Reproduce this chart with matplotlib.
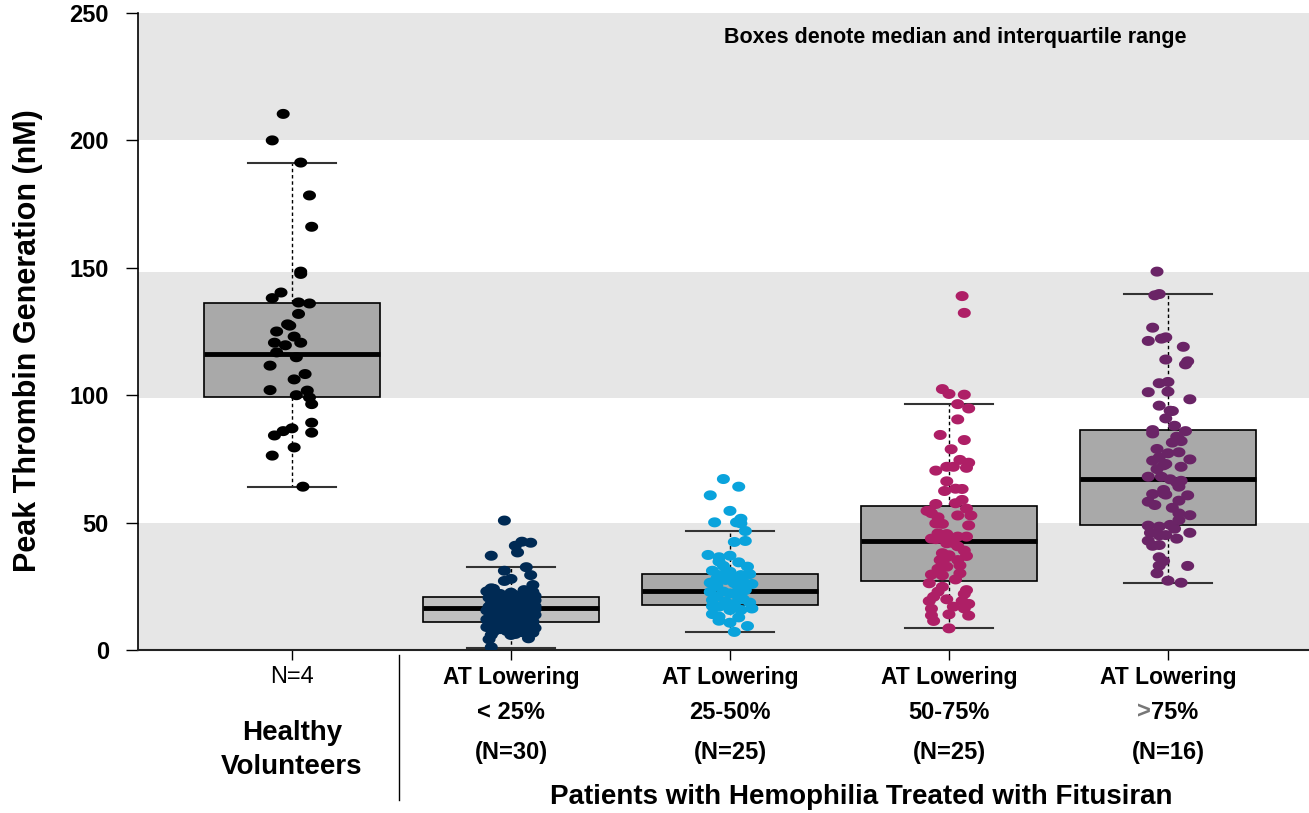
import numpy as np
import matplotlib.pyplot as plt

plt.rcParams['font.family'] = ['Liberation Sans', 'DejaVu Sans']

# box statistics: median, quartiles and whisker ends per group
medians = [116.2, 16.3, 23.2, 42.8, 67.0]
q1s = [99.3, 11.1, 17.7, 27.2, 49.1]
q3s = [136.2, 20.9, 29.8, 56.5, 86.3]
whis_lo = [64.0, 0.9, 7.1, 8.6, 26.4]
whis_hi = [191.1, 32.5, 46.6, 96.5, 139.7]

# individual measurements (nM) with their horizontal jitter
hv_vals = [210.4, 200.0, 191.3, 178.4, 166.1, 148.5, 147.6, 138.1, 140.3, 136.4,
           136.0, 131.9, 127.8, 127.3, 125.0, 123.0, 120.6, 119.6, 120.6, 116.8,
           114.9, 111.6, 108.3, 106.2, 102.0, 101.8, 100.0, 99.1, 96.5, 89.2,
           85.3, 87.0, 85.9, 84.2, 79.5, 76.3, 64.1]
hv_jit = [-0.04, -0.09, 0.04, 0.08, 0.09, 0.04, 0.04, -0.09, -0.05, 0.03,
          0.08, 0.03, -0.02, -0.01, -0.07, 0.01, -0.08, -0.03, 0.04, -0.07,
          0.02, -0.10, 0.06, 0.01, -0.10, 0.07, 0.02, 0.08, 0.09, 0.09,
          0.09, 0.00, -0.04, -0.08, 0.01, -0.09, 0.05]

at25_vals = [50.8, 42.5, 42.1, 40.9, 38.3, 37.0, 32.5, 31.1, 29.4, 27.9,
             27.1, 25.5, 24.2, 5.9, 4.2, 1.1, 5.9, 4.6, 6.5,
             24.0, 23.5, 22.8, 22.0, 21.5, 21.0, 20.5, 20.2, 19.8, 19.5,
             19.0, 18.6, 18.2, 17.8, 17.5, 17.0, 16.8, 16.4, 16.0, 15.7,
             15.3, 15.0, 14.6, 14.3, 14.0, 13.6, 13.2, 12.9, 12.5, 12.2,
             11.8, 11.4, 11.0, 10.6, 10.3, 10.0, 9.6, 9.2, 8.8, 8.4,
             8.0, 7.5, 7.0,
             23.0, 22.5, 21.8, 21.2, 20.8, 19.2, 18.9, 18.0, 17.2, 16.5,
             15.9, 15.5, 14.8, 14.4, 13.8, 13.0, 12.7, 12.0, 11.6, 11.2,
             10.8, 10.0, 9.5, 9.0, 8.6, 8.2, 7.8, 7.2, 6.8, 6.3]
at25_jit = [-0.03, 0.05, 0.09, 0.02, 0.03, -0.09, 0.07, -0.03, 0.09, 0.00,
            -0.03, 0.10, -0.09, -0.09, -0.10, -0.09, 0.00, 0.08, 0.08,
            -0.08, 0.06, 0.10, -0.05, 0.02, 0.08, -0.10, -0.02, 0.05, 0.11,
            -0.07, 0.00, 0.09, -0.04, 0.04, -0.10, 0.07, -0.01, 0.11, -0.06,
            0.03, 0.09, -0.09, 0.00, 0.06, -0.04, 0.10, -0.08, 0.03, -0.01,
            0.08, -0.06, 0.05, -0.10, 0.01, 0.10, -0.03, 0.07, -0.07, 0.03,
            0.09, -0.02, 0.05,
            -0.11, 0.00, -0.08, 0.11, 0.04, -0.04, 0.06, -0.09, 0.11, -0.06,
            0.02, -0.11, 0.05, -0.05, 0.11, 0.00, 0.07, -0.11, 0.02, 0.10,
            -0.03, -0.08, 0.04, -0.11, 0.11, -0.05, 0.06, -0.08, 0.10, 0.02]

at50_vals = [67.1, 64.1, 60.7, 54.6, 51.5, 50.1, 50.1, 49.7, 46.7, 42.4,
             42.8, 37.3, 36.4, 37.0, 34.7, 34.4, 32.7, 31.1, 30.7, 29.8,
             29.4, 29.4, 26.4, 27.5, 26.2, 25.9, 25.1, 22.8, 22.9, 23.5,
             22.2, 21.6, 19.6, 18.6, 19.0, 18.1, 16.3, 17.0, 15.7, 15.7,
             14.1, 13.1, 12.8, 11.5, 10.7, 9.4, 7.1,
             30.0, 28.5, 28.0, 24.5, 20.0, 17.5, 17.2, 21.0, 26.8, 33.0]
at50_jit = [-0.03, 0.04, -0.09, 0.00, 0.05, -0.07, 0.03, 0.05, 0.07, 0.02,
            0.07, -0.10, -0.05, 0.00, -0.05, 0.04, 0.08, -0.08, 0.00, 0.09,
            -0.05, 0.05, -0.09, -0.02, 0.02, 0.10, -0.06, -0.09, -0.03, 0.07,
            0.00, 0.03, -0.08, 0.09, -0.02, 0.02, 0.10, -0.05, 0.00, 0.05,
            -0.08, -0.05, 0.04, -0.05, 0.00, 0.08, 0.02,
            -0.02, 0.02, -0.06, 0.04, 0.06, -0.02, -0.08, -0.06, 0.06, -0.03]

at75_vals = [138.9, 132.3, 102.4, 100.5, 100.2, 96.5, 94.8, 90.5, 84.4, 82.4,
             78.8, 74.6, 73.5, 71.9, 71.9, 71.5, 70.4, 66.2, 62.4, 63.3,
             63.2, 58.9, 57.6, 57.3, 54.6, 55.5, 52.8, 52.8, 52.1, 49.7,
             49.5, 48.9, 45.8, 45.5, 43.7, 44.5, 44.5, 41.9, 43.7, 40.7,
             38.0, 37.2, 36.9, 35.3, 35.3, 36.4, 31.9, 32.7, 33.2, 29.6,
             29.3, 30.1, 27.7, 26.2, 24.8, 23.5, 22.9, 22.0, 20.9, 19.2,
             19.9, 19.2, 18.1, 17.0, 16.2, 16.3, 14.0, 13.6, 13.5, 11.4,
             8.5, 54.6, 43.5, 42.0, 39.0, 43.0, 53.7]
at75_jit = [0.06, 0.07, -0.03, 0.00, 0.07, 0.04, 0.09, 0.04, -0.04, 0.07,
            0.01, 0.05, 0.09, -0.01, 0.02, 0.08, -0.06, -0.01, -0.02, 0.03,
            0.06, 0.06, 0.03, -0.06, -0.09, 0.08, 0.10, 0.04, -0.05, -0.06,
            -0.03, 0.09, -0.05, -0.01, -0.08, 0.04, 0.08, -0.01, -0.04, 0.04,
            -0.03, 0.00, 0.08, -0.04, 0.04, -0.01, -0.05, -0.01, 0.05, -0.08,
            -0.03, 0.05, 0.03, -0.09, -0.03, 0.08, -0.05, 0.07, -0.07, -0.09,
            -0.01, 0.06, 0.09, 0.02, -0.08, 0.07, 0.00, -0.08, 0.09, -0.07,
            0.00, -0.10, -0.06, 0.02, 0.07, 0.00, -0.08]

atgt75_vals = [148.5, 139.2, 139.7, 126.5, 121.3, 122.2, 122.7, 119.0, 114.0, 113.3,
               112.1, 104.7, 105.2, 101.2, 101.4, 98.4, 95.9, 93.9, 93.8, 90.9,
               88.0, 86.3, 85.0, 85.9, 83.7, 81.4, 82.0, 78.9, 77.2, 77.6,
               74.3, 75.6, 74.8, 73.0, 71.9, 71.0, 68.0, 68.0, 67.0, 65.7,
               66.4, 64.1, 62.8, 61.2, 61.5, 60.7, 58.2, 56.9, 58.6, 55.8,
               53.6, 52.9, 51.0, 48.8, 48.4, 49.1, 47.6, 46.0, 45.0, 45.1,
               46.0, 43.7, 42.9, 40.9, 41.2, 36.4, 34.9, 33.1, 33.0, 30.1,
               27.2, 26.4, 82.7, 61.0, 72.5]
atgt75_jit = [-0.05, -0.06, -0.04, -0.07, -0.09, -0.03, -0.01, 0.07, -0.01, 0.09,
              0.08, -0.04, 0.00, -0.09, 0.00, 0.10, -0.04, 0.01, 0.02, -0.01,
              0.03, -0.07, -0.07, 0.08, 0.04, 0.02, 0.06, -0.05, 0.00, 0.05,
              -0.07, -0.04, 0.10, -0.01, 0.06, -0.05, -0.09, -0.03, 0.01, 0.04,
              0.06, 0.05, -0.02, -0.07, -0.02, 0.09, -0.09, -0.06, 0.05, 0.02,
              0.05, 0.10, 0.05, -0.09, -0.04, 0.01, 0.03, -0.08, -0.04, -0.01,
              0.10, 0.04, -0.09, -0.07, -0.04, -0.04, -0.02, -0.04, 0.09, -0.05,
              0.00, 0.06, 0.05, -0.01, -0.02]

groups = [(hv_vals, hv_jit), (at25_vals, at25_jit), (at50_vals, at50_jit),
          (at75_vals, at75_jit), (atgt75_vals, atgt75_jit)]
dot_colors = ['#000000', '#002a54', '#0aa3dc', '#ae1f66', '#6a2466']
box_colors = ['#a9a9a9', '#c0c0c0', '#a9a9a9', '#a9a9a9', '#a9a9a9']

top_lines = ['N=4', 'AT Lowering', 'AT Lowering', 'AT Lowering', 'AT Lowering']
mid_lines = ['', '< 25%', '25-50%', '50-75%', None]
n_lines = ['', '(N=30)', '(N=25)', '(N=25)', '(N=16)']

fig = plt.figure(figsize=(13.09, 8.13), dpi=100)
ax = fig.add_axes([138 / 1309, 163 / 813, 1 - 138 / 1309, 637 / 813])

# shaded horizontal bands
for lo, hi in [(0, 50), (99, 148.5), (200, 250)]:
    ax.axhspan(lo, hi, color='#e6e6e6', zorder=0, lw=0)

stats = [dict(med=m, q1=a, q3=b, whislo=lo, whishi=hi, fliers=[])
         for m, a, b, lo, hi in zip(medians, q1s, q3s, whis_lo, whis_hi)]
bp = ax.bxp(stats, positions=range(5), widths=0.8, capwidths=0.4,
            patch_artist=True, showfliers=False, manage_ticks=False,
            boxprops=dict(edgecolor='black', linewidth=1.2),
            whiskerprops=dict(linestyle=(0, (2.5, 2)), linewidth=1, color='black'),
            capprops=dict(color='#333333', linewidth=1.5),
            medianprops=dict(color='black', linewidth=3.5),
            zorder=2)
for patch, fc in zip(bp['boxes'], box_colors):
    patch.set_facecolor(fc)

# slightly wide oval markers
t = np.linspace(0, 2 * np.pi, 40)
oval = np.column_stack([1.3 * np.cos(t), np.sin(t)])

for i, ((vals, jit), c) in enumerate(zip(groups, dot_colors)):
    xs = i + np.array(jit)
    ax.scatter(xs, vals, s=88, marker=oval, color=c, edgecolors='none', zorder=3)

ax.set_xlim(-0.703, 4.644)
ax.set_ylim(0, 250)
ax.set_yticks([0, 50, 100, 150, 200, 250])
ax.set_xticks(range(5))
ax.set_xticklabels([])
ax.tick_params(axis='y', direction='out', length=9, width=1, pad=12, labelsize=17)
ax.tick_params(axis='x', direction='out', length=7, width=1)
for lbl in ax.get_yticklabels():
    lbl.set_fontweight('bold')
for side in ['top', 'right']:
    ax.spines[side].set_visible(False)
ax.spines['bottom'].set_linewidth(1.5)
ax.spines['bottom'].set_color('#222222')
ax.spines['left'].set_linewidth(1.2)

fig.text(28 / 1309, 1 - 341 / 813, 'Peak Thrombin Generation (nM)', rotation=90,
         ha='center', va='center', fontsize=22, fontweight='bold')

ax.text(3.03, 0.961, 'Boxes denote median and interquartile range',
        transform=ax.get_xaxis_transform(), ha='center', va='center',
        fontsize=15.5, fontweight='bold')

# category labels below the axis
tr = ax.get_xaxis_transform()
def ypos(py):
    return (650 - py) / 637

for i in range(5):
    ax.text(i, ypos(677), top_lines[i], transform=tr, ha='center', va='center',
            fontsize=17 if i == 0 else 16.5,
            fontweight='normal' if i == 0 else 'bold')
    if i > 0:
        if mid_lines[i]:
            ax.text(i, ypos(712), mid_lines[i], transform=tr, ha='center',
                    va='center', fontsize=17, fontweight='bold')
        ax.text(i, ypos(752), n_lines[i], transform=tr, ha='center',
                va='center', fontsize=17, fontweight='bold')

# last range: grey ">" followed by black "75%"
ax.annotate('>', xy=(4, ypos(712)), xycoords=tr, xytext=(-12, 0),
            textcoords='offset points', ha='right', va='center',
            fontsize=17, fontweight='bold', color='#777777')
ax.annotate('75%', xy=(4, ypos(712)), xycoords=tr, xytext=(-12, 0),
            textcoords='offset points', ha='left', va='center',
            fontsize=17, fontweight='bold', color='black')

ax.text(0, ypos(733), 'Healthy', transform=tr, ha='center', va='center',
        fontsize=20, fontweight='bold')
ax.text(0, ypos(767), 'Volunteers', transform=tr, ha='center', va='center',
        fontsize=20, fontweight='bold')
ax.text(2.60, ypos(797), 'Patients with Hemophilia Treated with Fitusiran',
        transform=tr, ha='center', va='center', fontsize=20, fontweight='bold')

# divider between volunteers and patients
ax.plot([0.489, 0.489], [ypos(655), ypos(800)], transform=tr, color='black',
        lw=1, clip_on=False)

fig.savefig('out.png', dpi=100)
